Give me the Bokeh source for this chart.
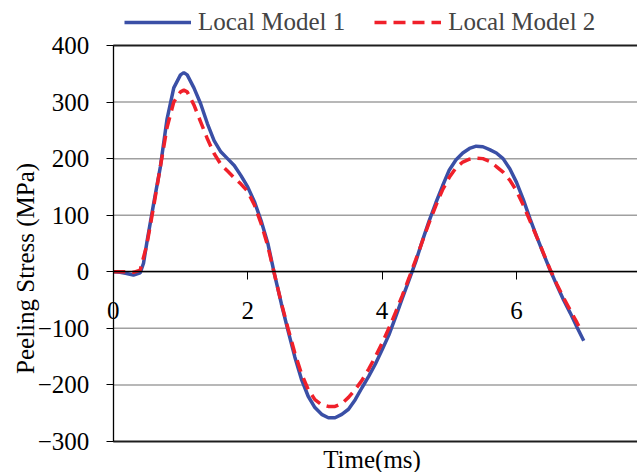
from bokeh.plotting import figure
from bokeh.models import Range1d, FixedTicker, Label, Legend, LegendItem
from bokeh.embed import file_html
from bokeh.resources import INLINE
import math

# ---- data ----
t1 = [0.0, 0.1, 0.2, 0.3, 0.4, 0.45, 0.5, 0.6, 0.7, 0.8, 0.9, 1.0, 1.05, 1.1, 1.2, 1.3, 1.4, 1.5,
      1.6, 1.7, 1.8, 1.9, 2.0, 2.1, 2.2, 2.3, 2.4, 2.5, 2.6, 2.7, 2.8, 2.9, 3.0, 3.1, 3.2, 3.3,
      3.4, 3.5, 3.6, 3.7, 3.8, 3.9, 4.0, 4.1, 4.2, 4.3, 4.4, 4.5, 4.6, 4.7, 4.8, 4.9, 5.0, 5.1,
      5.2, 5.3, 5.4, 5.5, 5.6, 5.7, 5.8, 5.9, 6.0, 6.1, 6.2, 6.3, 6.4, 6.5, 6.6, 6.7, 6.8, 6.9, 7.0]
model1 = [0, -1, -3, -6, -2, 15, 52, 120, 185, 270, 325, 348, 352, 348, 325, 297, 262, 232,
          212, 200, 188, 170, 150, 124, 90, 50, -5, -56, -104, -150, -190, -220, -240, -252, -258, -258,
          -252, -243, -226, -205, -185, -163, -138, -112, -80, -47, -15, 18, 55, 90, 122, 152, 180, 198,
          210, 218, 222, 221, 216, 210, 200, 182, 158, 128, 94, 62, 32, 3, -24, -50, -73, -98, -122]

t2 = [0.0, 0.1, 0.2, 0.3, 0.4, 0.5, 0.6, 0.7, 0.8, 0.9, 1.0, 1.05, 1.1, 1.2, 1.3, 1.4, 1.5,
      1.6, 1.7, 1.8, 1.9, 2.0, 2.1, 2.2, 2.3, 2.4, 2.5, 2.6, 2.7, 2.8, 2.9, 3.0, 3.1, 3.2, 3.3,
      3.4, 3.5, 3.6, 3.7, 3.8, 3.9, 4.0, 4.1, 4.2, 4.3, 4.4, 4.5, 4.6, 4.7, 4.8, 4.9, 5.0, 5.1,
      5.2, 5.3, 5.4, 5.5, 5.6, 5.7, 5.8, 5.9, 6.0, 6.1, 6.2, 6.3, 6.4, 6.5, 6.6, 6.7, 6.8, 6.9, 6.96]
model2 = [0, 0, 0, -1, 3, 48, 115, 185, 255, 300, 318, 321, 318, 295, 265, 235, 209,
          190, 178, 166, 155, 142, 118, 85, 45, -5, -55, -100, -143, -180, -208, -226, -235, -238, -238,
          -233, -222, -208, -192, -172, -150, -126, -100, -72, -42, -11, 21, 54, 87, 117, 145, 167, 184,
          194, 199, 201, 200, 195, 186, 176, 162, 143, 118, 90, 62, 33, 4, -22, -46, -68, -90, -104]

x_ticks = [0, 2, 4, 6]
y_ticks = [-300, -200, -100, 0, 100, 200, 300, 400]
series_names = ["Local Model 1", "Local Model 2"]
x_title = "Time(ms)"
y_title = "Peeling Stress (MPa)"

FONT = "Liberation Serif"
BLUE = "#3A4FA6"
RED = "#F0202A"

X_MIN, X_MAX = 0, 7.8
Y_MIN, Y_MAX = -300, 400

p = figure(width=637, height=472, output_backend="svg", toolbar_location=None,
           x_range=Range1d(-1.678, 7.80), y_range=Range1d(-354.8, 479.5),
           min_border_left=0, min_border_right=0, min_border_top=0, min_border_bottom=0)
p.background_fill_color = "white"
p.border_fill_color = "white"
p.outline_line_color = None
p.xgrid.grid_line_color = None
p.ygrid.grid_line_color = None

inner = [v for v in y_ticks if v not in (Y_MIN, Y_MAX)]
p.segment(x0=[X_MIN] * len(inner), y0=inner, x1=[X_MAX] * len(inner), y1=inner,
          line_color="#A0A0A0", line_width=1.5)
p.segment(x0=[X_MIN, X_MIN], y0=[Y_MIN, Y_MAX], x1=[X_MAX, X_MAX], y1=[Y_MIN, Y_MAX],
          line_color="#1E1E1E", line_width=1.8)

xa = p.xaxis[0]
xa.fixed_location = 0
xa.bounds = (X_MIN, X_MAX)
xa.ticker = FixedTicker(ticks=x_ticks)
xa.minor_tick_line_color = None
xa.major_tick_in = 0
xa.major_tick_out = 8
xa.major_label_standoff = 22
xa.axis_line_color = "black"
xa.axis_line_width = 1.3
xa.major_tick_line_color = "black"
xa.major_label_text_font = FONT
xa.major_label_text_font_size = "25px"
xa.major_label_text_color = "black"

ya = p.yaxis[0]
ya.fixed_location = 0
ya.bounds = (Y_MIN, Y_MAX)
ya.ticker = FixedTicker(ticks=y_ticks)
ya.minor_tick_line_color = None
ya.major_tick_in = 0
ya.major_tick_out = 7
ya.major_label_standoff = 17
ya.axis_line_color = "black"
ya.axis_line_width = 1.3
ya.major_tick_line_color = "black"
ya.major_label_text_font = FONT
ya.major_label_text_font_size = "25px"
ya.major_label_text_color = "black"

r1 = p.line(t1, model1, line_color=BLUE, line_width=3.5)
r2 = p.line(t2, model2, line_color=RED, line_width=3.5, line_dash="12 7")

legend = Legend(items=[LegendItem(label=series_names[0], renderers=[r1]),
                       LegendItem(label=series_names[1], renderers=[r2])],
                orientation="horizontal", location=(124, 436),
                padding=0, margin=0, spacing=29, glyph_width=67, glyph_height=28,
                label_standoff=7, label_text_font=FONT, label_text_font_size="25px",
                label_height=28, border_line_color=None, background_fill_alpha=0)
p.add_layout(legend, "center")

p.add_layout(Label(x=3.85, y=-332, text=x_title,
                   text_font=FONT, text_font_size="25px", text_align="center",
                   text_baseline="middle", text_color="black"))
p.add_layout(Label(x=-1.306, y=6, text=y_title,
                   angle=math.pi / 2, text_font=FONT, text_font_size="25px",
                   text_align="center", text_baseline="middle", text_color="black"))

open("out.html", "w").write(file_html(p, INLINE))
